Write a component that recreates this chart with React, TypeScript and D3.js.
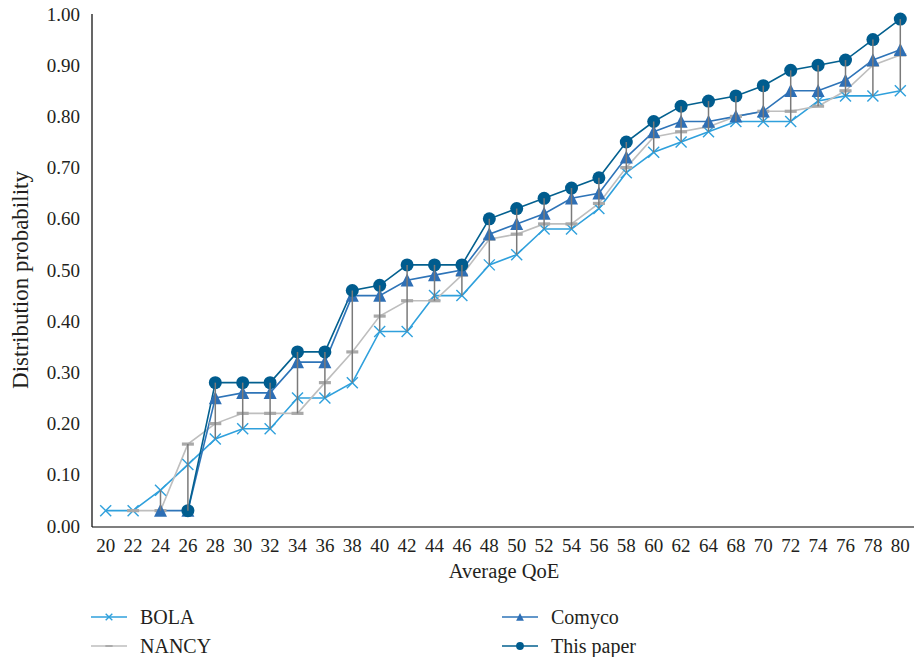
import React from "react";
import * as d3 from "d3";

const categories = ["20","22","24","26","28","30","32","34","36","38","40","42","44","46","48","50","52","54","56","58","60","62","64","68","70","72","74","76","78","80"];

const bola: (number | null)[] = [0.03,0.03,0.07,0.12,0.17,0.19,0.19,0.25,0.25,0.28,0.38,0.38,0.45,0.45,0.51,0.53,0.58,0.58,0.62,0.69,0.73,0.75,0.77,0.79,0.79,0.79,0.83,0.84,0.84,0.85];
const nancy: (number | null)[] = [null,0.03,0.03,0.16,0.20,0.22,0.22,0.22,0.28,0.34,0.41,0.44,0.44,0.49,0.56,0.57,0.59,0.59,0.63,0.70,0.76,0.77,0.78,0.80,0.81,0.81,0.82,0.85,0.90,0.92];
const comyco: (number | null)[] = [null,null,0.03,0.03,0.25,0.26,0.26,0.32,0.32,0.45,0.45,0.48,0.49,0.50,0.57,0.59,0.61,0.64,0.65,0.72,0.77,0.79,0.79,0.80,0.81,0.85,0.85,0.87,0.91,0.93];
const thisPaper: (number | null)[] = [null,null,null,0.03,0.28,0.28,0.28,0.34,0.34,0.46,0.47,0.51,0.51,0.51,0.60,0.62,0.64,0.66,0.68,0.75,0.79,0.82,0.83,0.84,0.86,0.89,0.90,0.91,0.95,0.99];

const yTicks = [0,0.1,0.2,0.3,0.4,0.5,0.6,0.7,0.8,0.9,1.0];

const seriesNames = ["BOLA","NANCY","Comyco","This paper"];

const W = 914, H = 657;
const left = 92, right = 914, top = 14, bottom = 526;
const FONT = "Liberation Serif, Times New Roman, DejaVu Serif, serif";

const colors: Record<string, string> = {
  BOLA: "#2FA0DC",
  NANCY: "#BEBEBE",
  Comyco: "#2E74B8",
  "This paper": "#03608F",
};
const markerColors: Record<string, string> = {
  BOLA: "#2FA0DC",
  NANCY: "#A9A9A9",
  Comyco: "#2E6FB5",
  "This paper": "#005C8E",
};

function Marker({ name, x, y, scale = 1 }: { name: string; x: number; y: number; scale?: number }) {
  const c = markerColors[name];
  if (name === "BOLA") {
    const s = 5.5 * scale;
    return (
      <g stroke={c} strokeWidth={1.4}>
        <line x1={x - s} y1={y - s} x2={x + s} y2={y + s} />
        <line x1={x - s} y1={y + s} x2={x + s} y2={y - s} />
      </g>
    );
  }
  if (name === "NANCY") {
    const w = 6 * scale, h = 1.6 * scale;
    return <rect x={x - w} y={y - h} width={2 * w} height={2 * h} fill={c} />;
  }
  if (name === "Comyco") {
    const s = 6.5 * scale;
    return <path d={`M${x},${y - s * 1.05} L${x + s},${y + s * 0.95} L${x - s},${y + s * 0.95} Z`} fill={c} />;
  }
  return <circle cx={x} cy={y} r={6.5 * scale} fill={c} />;
}

export default function App() {
  const x = d3.scaleBand<string>().domain(categories).range([left, right]).padding(0);
  const y = d3.scaleLinear().domain([0, 1]).range([bottom, top]);
  const cx = (c: string) => (x(c) as number) + x.bandwidth() / 2;

  const data: Record<string, (number | null)[]> = {
    BOLA: bola,
    NANCY: nancy,
    Comyco: comyco,
    "This paper": thisPaper,
  };

  const line = d3
    .line<number | null>()
    .defined((d) => d !== null)
    .x((_, i) => cx(categories[i]))
    .y((d) => y(d as number));

  const hiLo = categories.map((c, i) => {
    const vals = seriesNames.map((n) => data[n][i]).filter((v) => v !== null) as number[];
    return { c, lo: d3.min(vals) as number, hi: d3.max(vals) as number };
  });

  const txt = (size: number) => ({ fontFamily: FONT, fontSize: size, fill: "#231F20" } as React.CSSProperties);

  return (
    <svg width={W} height={H} style={{ position: "absolute", left: 0, top: 0, background: "#fff", fontFamily: FONT }}>
      {/* axes */}
      <line x1={left} y1={top} x2={left} y2={bottom + 1} stroke="#000" strokeWidth={1.2} />
      <line x1={left} y1={bottom + 1} x2={right} y2={bottom + 1} stroke="#000" strokeWidth={1.2} />
      {yTicks.map((t) => (
        <text key={t} x={80} y={y(t)} dy="0.35em" textAnchor="end" style={txt(19)}>
          {t.toFixed(2)}
        </text>
      ))}
      {categories.map((c) => (
        <text key={c} x={cx(c)} y={552} textAnchor="middle" style={txt(19)}>
          {c}
        </text>
      ))}
      <text x={504} y={578} textAnchor="middle" style={txt(20.5)}>Average QoE</text>
      <text transform={`translate(28,280) rotate(-90)`} textAnchor="middle" style={txt(23)}>
        Distribution probability
      </text>

      {/* lines */}
      {seriesNames.map((n) => (
        <path key={n} d={line(data[n]) || ""} fill="none" stroke={colors[n]} strokeWidth={1.6} />
      ))}
      {/* markers */}
      {seriesNames.map((n) =>
        data[n].map((v, i) =>
          v === null ? null : <Marker key={n + i} name={n} x={cx(categories[i])} y={y(v)} />
        )
      )}
      {/* high-low lines */}
      {hiLo.map((h) =>
        h.hi - h.lo > 0.001 ? (
          <line key={h.c} x1={cx(h.c)} x2={cx(h.c)} y1={y(h.hi)} y2={y(h.lo)} stroke="#7A7A7A" strokeWidth={1.5} />
        ) : null
      )}

      {/* legend */}
      {[
        { n: "BOLA", lx: 91, ly: 617 },
        { n: "NANCY", lx: 91, ly: 646 },
        { n: "Comyco", lx: 502, ly: 617 },
        { n: "This paper", lx: 502, ly: 646 },
      ].map((l) => (
        <g key={l.n}>
          <line x1={l.lx} x2={l.lx + 36} y1={l.ly} y2={l.ly} stroke={colors[l.n]} strokeWidth={1.6} />
          <Marker name={l.n} x={l.lx + 18} y={l.ly} scale={0.6} />
          <text x={l.lx + 49} y={l.ly} dy="0.35em" style={txt(20)}>{l.n}</text>
        </g>
      ))}
    </svg>
  );
}
